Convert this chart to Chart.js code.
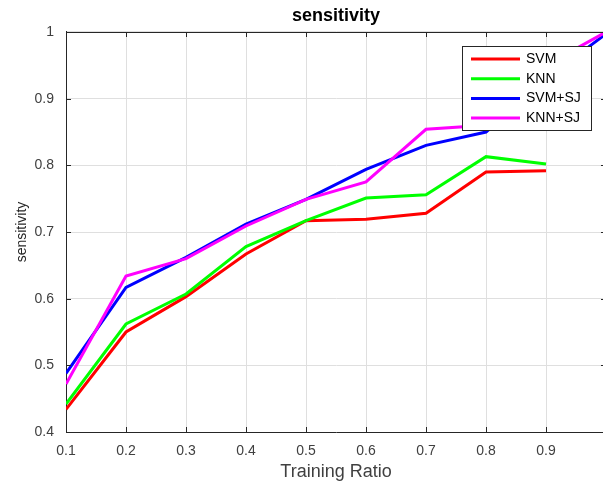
<!DOCTYPE html>
<html>
<head>
<meta charset="utf-8">
<script src="https://cdn.jsdelivr.net/npm/chart.js@4.4.0/dist/chart.umd.min.js"></script>
<style>
  html, body { margin: 0; padding: 0; background: #fff; overflow: hidden; }
  .wrap { width: 612px; height: 486px; }
</style>
</head>
<body>
<div class="wrap"><canvas id="chart" width="612" height="486"></canvas></div>
<script>
const ratios = [0.1, 0.2, 0.3, 0.4, 0.5, 0.6, 0.7, 0.8, 0.9, 1.0];
const svm = [0.434, 0.550, 0.603, 0.667, 0.717, 0.719, 0.728, 0.790, 0.792];
const knn = [0.442, 0.562, 0.607, 0.678, 0.717, 0.751, 0.756, 0.813, 0.802];
const svmSj = [0.488, 0.617, 0.662, 0.712, 0.749, 0.794, 0.830, 0.850, 0.930, 0.997];
const knnSj = [0.472, 0.634, 0.660, 0.709, 0.749, 0.775, 0.854, 0.860, 0.950, 1.000];
const seriesNames = ['SVM', 'KNN', 'SVM+SJ', 'KNN+SJ'];
const seriesColors = ['#ff0000', '#00ff00', '#0000ff', '#ff00ff'];
const xTicks = [0.1, 0.2, 0.3, 0.4, 0.5, 0.6, 0.7, 0.8, 0.9, 1.0];
const yTicks = [0.4, 0.5, 0.6, 0.7, 0.8, 0.9, 1.0];

const FONT = "'Liberation Sans', Arial, Helvetica, sans-serif";
const AXIS_COLOR = '#262626';

function toPoints(values) {
  return values.map((v, i) => ({ x: ratios[i], y: v }));
}

function fmt(v) {
  return String(Number(v.toFixed(1)));
}

// top/right box edges and inward tick marks, like a matlab axes
const axesBox = {
  id: 'axesBox',
  afterDatasetsDraw(chart) {
    const { ctx, chartArea: a } = chart;
    const xs = chart.scales.x;
    const ys = chart.scales.y;
    ctx.save();
    ctx.strokeStyle = AXIS_COLOR;
    ctx.lineWidth = 1;
    ctx.beginPath();
    ctx.moveTo(a.left, a.top + 0.5);
    ctx.lineTo(a.right, a.top + 0.5);
    ctx.moveTo(a.right - 0.5, a.top);
    ctx.lineTo(a.right - 0.5, a.bottom);
    xTicks.forEach((t) => {
      const px = Math.round(xs.getPixelForValue(t)) + 0.5;
      ctx.moveTo(px, a.bottom);
      ctx.lineTo(px, a.bottom - 5);
      ctx.moveTo(px, a.top);
      ctx.lineTo(px, a.top + 5);
    });
    yTicks.forEach((t) => {
      const py = Math.round(ys.getPixelForValue(t)) + 0.5;
      ctx.moveTo(a.left, py);
      ctx.lineTo(a.left + 5, py);
      ctx.moveTo(a.right, py);
      ctx.lineTo(a.right - 5, py);
    });
    ctx.stroke();
    ctx.restore();
  },
};

const boxLegend = {
  id: 'boxLegend',
  afterDraw(chart) {
    const { ctx } = chart;
    const left = 462;
    const top = 46;
    ctx.save();
    ctx.fillStyle = '#fff';
    ctx.fillRect(left, top, 129, 84);
    ctx.strokeStyle = AXIS_COLOR;
    ctx.lineWidth = 1;
    ctx.strokeRect(left + 0.5, top + 0.5, 129, 84);
    ctx.font = `14px ${FONT}`;
    ctx.textBaseline = 'middle';
    ctx.textAlign = 'left';
    chart.data.datasets.forEach((ds, i) => {
      const y = top + 13 + i * 19.7;
      ctx.strokeStyle = ds.borderColor;
      ctx.lineWidth = 3;
      ctx.beginPath();
      ctx.moveTo(left + 9, y);
      ctx.lineTo(left + 58, y);
      ctx.stroke();
      ctx.fillStyle = '#000';
      ctx.fillText(ds.label, left + 64, y);
    });
    ctx.restore();
  },
};

const allSeries = [svm, knn, svmSj, knnSj];

new Chart(document.getElementById('chart'), {
  type: 'line',
  data: {
    datasets: allSeries.map((vals, i) => ({
      label: seriesNames[i],
      data: toPoints(vals),
      borderColor: seriesColors[i],
      backgroundColor: seriesColors[i],
      borderWidth: 3,
      pointRadius: 0,
      tension: 0,
      fill: false,
      order: 4 - i,
    })),
  },
  options: {
    responsive: false,
    animation: false,
    devicePixelRatio: 1,
    layout: { padding: { left: 0, right: 6, top: 0, bottom: 0 } },
    plugins: {
      legend: { display: false },
      tooltip: { enabled: false },
      title: {
        display: true,
        fullSize: false,
        text: 'sensitivity',
        color: '#000',
        font: { family: FONT, size: 18, weight: 'bold' },
        padding: { top: 5.6, bottom: 4.8 },
      },
    },
    scales: {
      x: {
        type: 'linear',
        min: 0.1,
        max: 1,
        afterBuildTicks(scale) {
          scale.ticks = xTicks.map((v) => ({ value: v }));
        },
        afterFit(scale) {
          scale.height = 54;
          scale.paddingLeft = 0;
          scale.paddingRight = 0;
        },
        ticks: {
          callback: (v) => (v === 1 ? '' : fmt(v)),
          color: '#404040',
          font: { family: FONT, size: 14 },
          padding: 11,
          maxRotation: 0,
          autoSkip: false,
        },
        grid: { color: '#dfdfdf', drawTicks: false },
        border: { color: AXIS_COLOR, width: 1 },
        title: {
          display: true,
          text: 'Training Ratio',
          color: '#404040',
          font: { family: FONT, size: 18 },
          padding: { top: 0, bottom: 3 },
        },
      },
      y: {
        min: 0.4,
        max: 1,
        afterBuildTicks(scale) {
          scale.ticks = yTicks.map((v) => ({ value: v }));
        },
        afterFit(scale) {
          scale.width = 66;
          scale.paddingTop = 0;
          scale.paddingBottom = 0;
        },
        ticks: {
          callback: (v) => fmt(v),
          color: '#404040',
          font: { family: FONT, size: 14 },
          padding: 12,
        },
        grid: { color: '#dfdfdf', drawTicks: false },
        border: { color: AXIS_COLOR, width: 1 },
        title: {
          display: true,
          text: 'sensitivity',
          color: '#262626',
          font: { family: FONT, size: 14 },
          padding: { top: 14, bottom: 0 },
        },
      },
    },
  },
  plugins: [axesBox, boxLegend],
});
</script>
</body>
</html>
